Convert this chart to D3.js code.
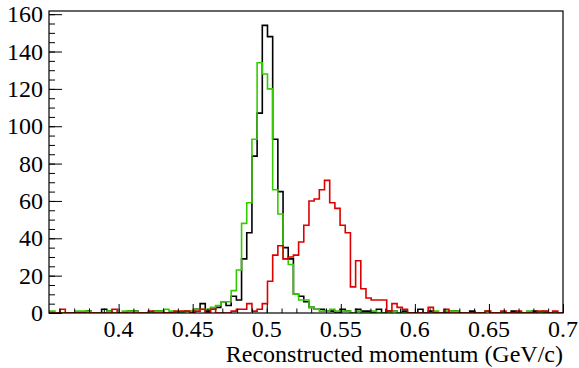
<!DOCTYPE html>
<html>
<head>
<meta charset="utf-8">
<script src="https://cdn.jsdelivr.net/npm/d3@7"></script>
<style>
  html, body { margin: 0; padding: 0; background: #fff; }
  svg { display: block; }
</style>
</head>
<body>
<svg id="chart" width="579" height="368"></svg>
<script>
// ---- data ----
const binStart = 0.35;
const binWidth = 0.0035;
const blackCounts = [
  0,0,0,0,0,0,0,0,1,0,
  0,2,1,0,0,0,1,1,0,0,
  0,1,1,0,0,0,0,1,0,2,
  5,1,2,3,6,4,9,7,29,43,
  84,107,154,148,93,65,35,29,10,9,
  6,3,2,2,1,1,0,2,1,0,
  2,1,1,0,2,0,1,1,0,1,
  0,0,2,0,1,0,0,0,1,1,
  0,0,1,0,0,1,0,0,0,0,
  1,0,0,0,1,0,0,0,0,0
];
const greenCounts = [
  0,1,0,0,0,0,1,1,1,0,
  0,0,1,0,0,1,1,1,0,0,
  0,1,1,2,1,0,0,1,1,2,
  2,2,3,4,6,6,12,23,48,59,
  93,134,128,120,66,53,29,26,10,7,
  7,3,2,1,1,2,1,1,1,0,
  1,0,0,1,0,0,0,1,0,0,
  0,0,0,0,0,1,0,1,1,1,
  0,0,0,0,0,1,0,0,0,0,
  0,0,0,1,0,0,1,0,0,0
];
const redCounts = [
  0,0,0,2,0,0,0,0,0,0,
  0,0,0,2,0,0,0,0,0,0,
  1,0,0,0,0,1,1,1,0,1,
  2,0,2,0,0,0,1,2,2,5,
  1,2,5,17,31,36,29,30,31,38,
  47,60,61,66,71,59,56,47,43,14,
  28,13,8,7,7,7,1,5,3,2,
  0,0,0,0,3,0,0,2,0,0,
  0,0,0,0,0,1,0,0,1,0,
  0,1,0,0,0,1,1,0,1,0
];
const xTickValues = [0.4, 0.45, 0.5, 0.55, 0.6, 0.65, 0.7];
const xTickLabels = ["0.4", "0.45", "0.5", "0.55", "0.6", "0.65", "0.7"];
const yTickValues = [0, 20, 40, 60, 80, 100, 120, 140, 160];
const yTickLabels = ["0", "20", "40", "60", "80", "100", "120", "140", "160"];
const xTitle = "Reconstructed momentum (GeV/c)";

(function () {
  const svg = d3.select("#chart");
  const L = 49, R = 563, T = 11, B = 313;
  const FONT = '"Liberation Serif", "Times New Roman", serif';
  const FS = "24px";
  const x = d3.scaleLinear().domain([0.353, 0.7]).range([L, R]);
  const y = d3.scaleLinear().domain([0, 161.7]).range([B, T]);

  svg.append("defs").append("clipPath").attr("id", "frameClip")
    .append("rect").attr("x", L).attr("y", T).attr("width", R - L).attr("height", B - T);

  function histPath(counts) {
    const p = d3.path();
    p.moveTo(x(binStart), y(0));
    counts.forEach((v, i) => {
      const x0 = x(binStart + i * binWidth);
      const x1 = x(binStart + (i + 1) * binWidth);
      p.lineTo(x0, y(v));
      p.lineTo(x1, y(v));
    });
    p.lineTo(x(binStart + counts.length * binWidth), y(0));
    return p.toString();
  }

  const g = svg.append("g").attr("clip-path", "url(#frameClip)");
  [[blackCounts, "#000000"], [greenCounts, "#33cc00"], [redCounts, "#dd0000"]].forEach(([c, col]) => {
    g.append("path").attr("d", histPath(c)).attr("fill", "none")
      .attr("stroke", col).attr("stroke-width", 1.6).attr("stroke-linejoin", "miter");
  });

  svg.append("rect").attr("x", L).attr("y", T).attr("width", R - L).attr("height", B - T)
    .attr("fill", "none").attr("stroke", "#000").attr("stroke-width", 1.2);

  // x axis tick marks (inward)
  const xMinor = d3.range(36, 71, 1).map(v => v / 100);
  const xm = svg.append("g").attr("transform", `translate(0,${B})`)
    .call(d3.axisBottom(x).tickValues(xMinor).tickSize(-4.5).tickFormat(""));
  xm.select(".domain").remove();
  xm.selectAll("text").remove();
  const xa = svg.append("g").attr("transform", `translate(0,${B})`)
    .call(d3.axisBottom(x).tickValues(xTickValues).tickSize(-9).tickFormat(""));
  xa.select(".domain").remove();
  xa.selectAll("text").remove();

  // y axis tick marks (inward)
  const yMinor = d3.range(0, 161, 5);
  const ym = svg.append("g").attr("transform", `translate(${L},0)`)
    .call(d3.axisLeft(y).tickValues(yMinor).tickSize(-6).tickFormat(""));
  ym.select(".domain").remove();
  ym.selectAll("text").remove();
  const ya = svg.append("g").attr("transform", `translate(${L},0)`)
    .call(d3.axisLeft(y).tickValues(yTickValues).tickSize(-13).tickFormat(""));
  ya.select(".domain").remove();
  ya.selectAll("text").remove();

  // labels in a separate group (serif)
  const lab = svg.append("g").attr("font-family", FONT).attr("font-size", FS).attr("fill", "#000");
  lab.selectAll("text.xl").data(xTickValues).join("text").attr("class", "xl")
    .attr("x", d => x(d)).attr("y", B + 24).attr("text-anchor", "middle")
    .style("font-family", FONT).style("font-size", FS)
    .text((d, i) => xTickLabels[i]);
  lab.selectAll("text.yl").data(yTickValues).join("text").attr("class", "yl")
    .attr("x", L - 6).attr("y", d => y(d) + 8).attr("text-anchor", "end")
    .style("font-family", FONT).style("font-size", FS)
    .text((d, i) => yTickLabels[i]);
  lab.append("text").attr("x", R).attr("y", 362).attr("text-anchor", "end")
    .style("font-family", FONT).style("font-size", FS).text(xTitle);
})();
</script>
</body>
</html>
